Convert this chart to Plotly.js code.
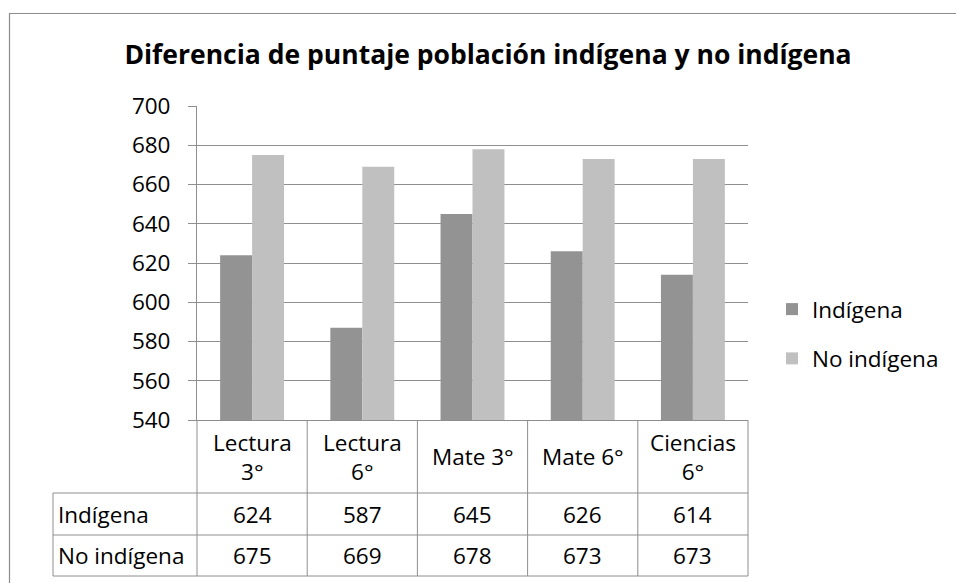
<!DOCTYPE html>
<html>
<head>
<meta charset="utf-8">
<script src="https://cdn.plot.ly/plotly-3.0.1.min.js"></script>
<style>html,body{margin:0;padding:0;background:#fff;}#chart{width:956px;height:583px;}</style>
</head>
<body>
<div id="chart"></div>
<script>
// ---- data ----
const categories = ["Lectura 3°", "Lectura 6°", "Mate 3°", "Mate 6°", "Ciencias 6°"];
const categoryLabels = ["Lectura<br>3°", "Lectura<br>6°", "Mate 3°", "Mate 6°", "Ciencias<br>6°"];
const seriesNames = ["Indígena", "No indígena"];
const indigena = [624, 587, 645, 626, 614];
const noIndigena = [675, 669, 678, 673, 673];
const yTicks = [540, 560, 580, 600, 620, 640, 660, 680, 700];

// ---- layout geometry (pixels) ----
const W = 956, H = 583;
const L = 197, R = 748, T = 106, B = 420;
const pw = R - L, ph = B - T;
const px = x => (x - L) / pw;
const py = y => (B - y) / ph;
const FONT = "'Open Sans', sans-serif";
const FS = 22.5;
const lineCol = "#8e8e8e";

const traces = [
  {type: "bar", name: seriesNames[0], x: categories, y: indigena, legendgroup: "a",
   marker: {color: "#939393", line: {width: 0}}},
  {type: "bar", name: seriesNames[1], x: categories, y: noIndigena, legendgroup: "b",
   marker: {color: "#c0c0c0", line: {width: 0}}}
];

const shapes = [];
const annotations = [];
function hline(y, x0, x1) {
  shapes.push({type: "line", xref: "paper", yref: "paper", x0: px(x0), x1: px(x1), y0: py(y), y1: py(y),
    line: {color: lineCol, width: 1}});
}
function vline(x, y0, y1) {
  shapes.push({type: "line", xref: "paper", yref: "paper", x0: px(x), x1: px(x), y0: py(y0), y1: py(y1),
    line: {color: lineCol, width: 1}});
}
// outer chart border
shapes.push({type: "rect", xref: "paper", yref: "paper", x0: px(9.5), x1: px(W + 5), y0: py(13.5), y1: py(H + 5),
  line: {color: "#8c8c8c", width: 1.2}, fillcolor: "rgba(0,0,0,0)"});

// data table
const rowLabelX = 53;
const headerBottom = 493, row1Bottom = 535, row2Bottom = 576;
hline(headerBottom, rowLabelX, R);
hline(row1Bottom, rowLabelX, R);
hline(row2Bottom, rowLabelX, R);
vline(rowLabelX, headerBottom, row2Bottom);
const n = categories.length;
const colW = pw / n;
for (let i = 0; i <= n; i++) vline(L + i * colW, B, row2Bottom);

const rows = [indigena, noIndigena];
const rowCenters = [(headerBottom + row1Bottom) / 2, (row1Bottom + row2Bottom) / 2];
categories.forEach((c, i) => {
  const cx = L + (i + 0.5) * colW;
  annotations.push({xref: "paper", yref: "paper", x: px(cx), y: py((B + headerBottom) / 2),
    text: categoryLabels[i], showarrow: false, xanchor: "center", yanchor: "middle",
    font: {family: FONT, size: FS, color: "#000"}});
  rows.forEach((r, k) => {
    annotations.push({xref: "paper", yref: "paper", x: px(cx), y: py(rowCenters[k]),
      text: String(r[i]), showarrow: false, xanchor: "center", yanchor: "middle",
      font: {family: FONT, size: FS, color: "#000"}});
  });
});
seriesNames.forEach((s, k) => {
  annotations.push({xref: "paper", yref: "paper", x: px(rowLabelX + 3), y: py(rowCenters[k]),
    text: s, showarrow: false, xanchor: "left", yanchor: "middle",
    font: {family: FONT, size: FS, color: "#000"}});
});

const layout = {
  width: W, height: H,
  margin: {l: L, r: W - R, t: T, b: H - B, pad: 0},
  paper_bgcolor: "#fff", plot_bgcolor: "#fff",
  title: {text: "<b>Diferencia de puntaje población indígena y no indígena</b>",
    font: {family: FONT, size: 26.5, color: "#000"}, x: 488 / W, xanchor: "center", y: 1 - 55 / H, yanchor: "middle"},
  barmode: "group", bargap: 0.42, bargroupgap: 0,
  xaxis: {showticklabels: false, ticks: "", showgrid: false, zeroline: false,
    showline: true, linecolor: lineCol, linewidth: 1, fixedrange: true},
  yaxis: {range: [540, 700], tickvals: yTicks, ticktext: yTicks.map(String),
    showgrid: true, gridcolor: lineCol, gridwidth: 1, zeroline: false,
    showline: true, linecolor: lineCol, linewidth: 1,
    ticks: "outside", ticklen: 8, tickcolor: lineCol, ticklabelstandoff: 13,
    tickfont: {family: FONT, size: FS, color: "#000"}},
  showlegend: true,
  legend: {x: px(772), y: py(334), xanchor: "left", yanchor: "middle",
    font: {family: FONT, size: FS, color: "#000"}, tracegroupgap: 17, traceorder: "grouped",
    itemwidth: 30, bgcolor: "rgba(0,0,0,0)"},
  shapes: shapes,
  annotations: annotations
};

Plotly.newPlot("chart", traces, layout, {displayModeBar: false, staticPlot: true});
</script>
</body>
</html>
